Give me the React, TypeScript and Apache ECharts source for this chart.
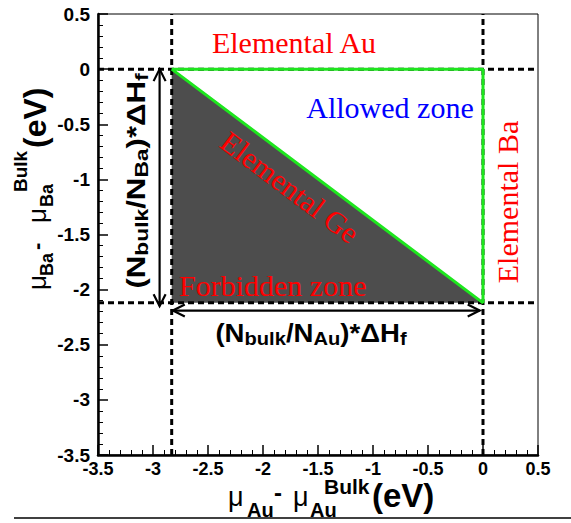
import React, { useEffect, useRef } from 'react';
import * as echarts from 'echarts';

// axis range (eV)
const AXIS_MIN = -3.5;
const AXIS_MAX = 0.5;
const AXIS_STEP = 0.5;

// stability triangle corners (mu_Au, mu_Ba) in eV
const forbiddenZone: number[][] = [[-2.83, 0], [-2.83, -2.12], [0, -2.12]];
const allowedZoneOutline: number[][] = [[-2.83, 0], [0, 0], [0, -2.12], [-2.83, 0]];
// dashed limit lines
const dashedHorizontalY: number[] = [0, -2.12];
const dashedVerticalX: number[] = [-2.83, 0];
// double arrows [x1, y1, x2, y2]
const arrows: number[][] = [
  [-2.94, 0, -2.94, -2.15],
  [-2.82, -2.19, -0.03, -2.19],
];

const SANS = '"Liberation Sans", Arial, sans-serif';
const SERIF = '"Liberation Serif", "Times New Roman", serif';

function piece(t: string, f: number, bold: boolean, lx: number, base: number, sx = 1) {
  return {
    type: 'text',
    x: lx,
    y: base - 0.3465 * f,
    scaleX: sx,
    style: {
      text: t,
      fill: '#000',
      font: `${bold ? 'bold ' : ''}${f}px ${SANS}`,
      textAlign: 'left',
      textVerticalAlign: 'middle',
    },
  };
}

function formulaStyle(text: string) {
  return {
    text,
    textAlign: 'center',
    textVerticalAlign: 'middle',
    rich: {
      m: { fontSize: 26, fontWeight: 'bold', fontFamily: SANS, fill: '#000', lineHeight: 30 },
      s: { fontSize: 19, fontWeight: 'bold', fontFamily: SANS, fill: '#000', lineHeight: 16, verticalAlign: 'bottom' },
    },
  };
}

export default function App() {
  const ref = useRef<HTMLDivElement>(null);
  useEffect(() => {
    if (!ref.current) return;
    const chart = echarts.init(ref.current, undefined, { renderer: 'svg' });
    const axisCommon = {
      type: 'value',
      min: AXIS_MIN,
      max: AXIS_MAX,
      interval: AXIS_STEP,
      axisLine: { onZero: false, lineStyle: { color: '#000', width: 2.5 } },
      axisTick: { inside: true, length: 10, lineStyle: { color: '#000', width: 1.5 } },
      minorTick: { show: true, splitNumber: 5, length: 5, lineStyle: { color: '#000', width: 1 } },
      splitLine: { show: false },
      minorSplitLine: { show: false },
    };
    const option: any = {
      animation: false,
      grid: { left: 98, top: 14, width: 440, height: 441, show: true, borderColor: '#000', borderWidth: 1 },
      xAxis: {
        ...axisCommon,
        axisLabel: { color: '#000', fontFamily: SANS, fontWeight: 'bold', fontSize: 18, margin: 5 },
      },
      yAxis: {
        ...axisCommon,
        axisLabel: { color: '#000', fontFamily: SANS, fontWeight: 'bold', fontSize: 19, margin: 8 },
      },
      series: [
        {
          type: 'custom',
          z: 1,
          silent: true,
          data: [[0, 0]],
          renderItem: (_p: any, api: any) => ({
            type: 'polygon',
            shape: { points: forbiddenZone.map((p) => api.coord(p)) },
            style: { fill: '#4d4d4d' },
          }),
        },
        ...dashedHorizontalY.map((y) => ({
          type: 'line',
          z: 3,
          silent: true,
          data: [[AXIS_MIN, y], [AXIS_MAX, y]],
          symbol: 'none',
          lineStyle: { color: '#000', width: 3, type: [6, 4] },
        })),
        ...dashedVerticalX.map((x) => ({
          type: 'line',
          z: 3,
          silent: true,
          data: [[x, AXIS_MIN], [x, AXIS_MAX]],
          symbol: 'none',
          lineStyle: { color: '#000', width: 3, type: [6, 4] },
        })),
        {
          type: 'line',
          z: 5,
          silent: true,
          data: allowedZoneOutline,
          symbol: 'none',
          lineStyle: { color: '#1ee61e', width: 3 },
        },
        {
          type: 'custom',
          z: 4,
          silent: true,
          data: arrows,
          renderItem: (_p: any, api: any) => {
            const p1 = api.coord([api.value(0), api.value(1)]);
            const p2 = api.coord([api.value(2), api.value(3)]);
            const dx = p2[0] - p1[0];
            const dy = p2[1] - p1[1];
            const len = Math.hypot(dx, dy);
            const ux = dx / len, uy = dy / len;
            const px = -uy, py = ux;
            const L = 12, W = 6;
            const st = { stroke: '#000', lineWidth: 2.2, fill: 'none' };
            return {
              type: 'group',
              children: [
                { type: 'line', shape: { x1: p1[0], y1: p1[1], x2: p2[0], y2: p2[1] }, style: st },
                {
                  type: 'polyline',
                  shape: { points: [[p2[0] - ux * L + px * W, p2[1] - uy * L + py * W], p2, [p2[0] - ux * L - px * W, p2[1] - uy * L - py * W]] },
                  style: st,
                },
                {
                  type: 'polyline',
                  shape: { points: [[p1[0] + ux * L + px * W, p1[1] + uy * L + py * W], p1, [p1[0] + ux * L - px * W, p1[1] + uy * L - py * W]] },
                  style: st,
                },
              ],
            };
          },
        },
      ],
      graphic: [
        { type: 'text', z: 100, x: 294, y: 42, style: { text: 'Elemental Au', fill: '#ff0000', font: `30px ${SERIF}`, textAlign: 'center', textVerticalAlign: 'middle' } },
        { type: 'text', z: 100, x: 390, y: 107, style: { text: 'Allowed zone', fill: '#0000ff', font: `30px ${SERIF}`, textAlign: 'center', textVerticalAlign: 'middle' } },
        { type: 'text', z: 100, x: 179, y: 285, style: { text: 'Forbidden zone', fill: '#ff0000', font: `30px ${SERIF}`, textAlign: 'left', textVerticalAlign: 'middle' } },
        { type: 'text', z: 100, x: 507, y: 202, rotation: Math.PI / 2, style: { text: 'Elemental Ba', fill: '#ff0000', font: `30px ${SERIF}`, textAlign: 'center', textVerticalAlign: 'middle' } },
        { type: 'text', z: 100, x: 290, y: 187, rotation: -Math.atan(234 / 312), style: { text: 'Elemental Ge', fill: '#ff0000', font: `30px ${SERIF}`, textAlign: 'center', textVerticalAlign: 'middle' } },
        { type: 'text', z: 100, x: 311, y: 333, scaleX: 1.06, style: formulaStyle('{m|(N}{s|bulk}{m|/N}{s|Au}{m|)*ΔH}{s|f}') },
        { type: 'text', z: 100, x: 136, y: 181, rotation: Math.PI / 2, scaleX: 1.2, style: formulaStyle('{m|(N}{s|bulk}{m|/N}{s|Ba}{m|)*ΔH}{s|f}') },
        {
          type: 'group', z: 100, x: 228, y: 506,
          children: [
            piece('μ', 27, false, 0, 0),
            piece('Au', 20, true, 19, 11),
            piece('-', 24, true, 46, -5),
            piece('μ', 27, false, 65, 0),
            piece('Au', 20, true, 82, 11),
            piece('Bulk', 21, true, 96, -12),
            piece('(eV)', 33, true, 144, 1),
          ],
        },
        {
          type: 'group', z: 100, x: 46, y: 290, rotation: Math.PI / 2,
          children: [
            piece('μ', 26, false, 0, 0),
            piece('Ba', 18, true, 14, 7),
            piece('-', 22, true, 40, -2),
            piece('μ', 26, false, 67, 0),
            piece('Ba', 18, true, 83, 7),
            piece('Bulk', 19, true, 98, -19),
            piece('(eV)', 32, true, 142, 0),
          ],
        },
        { type: 'line', z: 100, shape: { x1: 14, y1: 518, x2: 571, y2: 518 }, style: { stroke: '#000', lineWidth: 1.5 } },
      ],
    };
    chart.setOption(option);
    return () => chart.dispose();
  }, []);
  return <div ref={ref} style={{ position: 'absolute', left: 0, top: 0, width: 571, height: 523 }} />;
}
